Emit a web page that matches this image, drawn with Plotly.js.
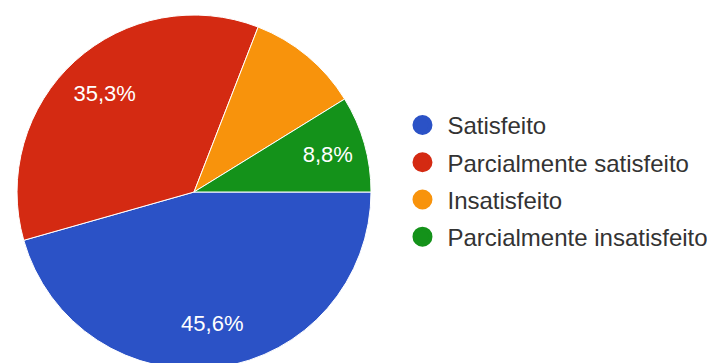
<!DOCTYPE html>
<html>
<head>
<meta charset="utf-8">
<script src="https://cdn.plot.ly/plotly-3.0.1.min.js"></script>
<style>
  html, body { margin: 0; padding: 0; background: #ffffff; overflow: hidden; }
  #chart { width: 707px; height: 369px; }
</style>
</head>
<body>
<div id="chart"></div>
<script>
const categories = ["Satisfeito", "Parcialmente satisfeito", "Insatisfeito", "Parcialmente insatisfeito"];
const values = [45.6, 35.3, 10.3, 8.8];
const showLabel = [true, true, false, true];
const colors = ["#2b52c6", "#d42a12", "#f8930c", "#14921a"];

const pieDomain = { x: [0.02405, 0.5248], y: [0, 0.9593] };

const pie = {
  type: "pie",
  labels: categories,
  values: values,
  sort: false,
  direction: "clockwise",
  rotation: 90,
  marker: { colors: colors, line: { color: "#ffffff", width: 1 } },
  textinfo: "none",
  hoverinfo: "none",
  showlegend: false,
  domain: pieDomain
};

// transparent ring used only to place the percentage labels further out
const labelRing = {
  type: "pie",
  labels: categories,
  values: values,
  sort: false,
  direction: "clockwise",
  rotation: 90,
  hole: 0.5,
  marker: { colors: categories.map(() => "rgba(0,0,0,0)"), line: { width: 0 } },
  texttemplate: showLabel.map(s => s ? "%{percent:.1%}" : ""),
  textposition: "inside",
  insidetextorientation: "horizontal",
  textfont: { family: "Arial, 'Liberation Sans', sans-serif", size: 22, color: "#ffffff" },
  hoverinfo: "none",
  showlegend: false,
  domain: pieDomain
};

const legendTraces = categories.map((c, i) => ({
  type: "scatter",
  mode: "markers",
  x: [null], y: [null],
  name: c,
  legendgroup: "g" + i,
  marker: { symbol: "circle", size: 16, color: colors[i], line: { color: colors[i], width: 4 } },
  hoverinfo: "none"
}));

const layout = {
  width: 707,
  height: 369,
  margin: { l: 0, r: 0, t: 0, b: 0, autoexpand: false },
  paper_bgcolor: "#ffffff",
  plot_bgcolor: "#ffffff",
  separators: ",.",
  showlegend: true,
  xaxis: { visible: false },
  yaxis: { visible: false },
  legend: {
    x: 0.5622, xanchor: "left",
    y: 0.721, yanchor: "top",
    font: { family: "Arial, 'Liberation Sans', sans-serif", size: 24, color: "#333333" },
    itemwidth: 40,
    tracegroupgap: 3,
    bgcolor: "rgba(0,0,0,0)"
  }
};

Plotly.newPlot("chart", [pie, labelRing].concat(legendTraces), layout, { displayModeBar: false, staticPlot: true });
</script>
</body>
</html>
